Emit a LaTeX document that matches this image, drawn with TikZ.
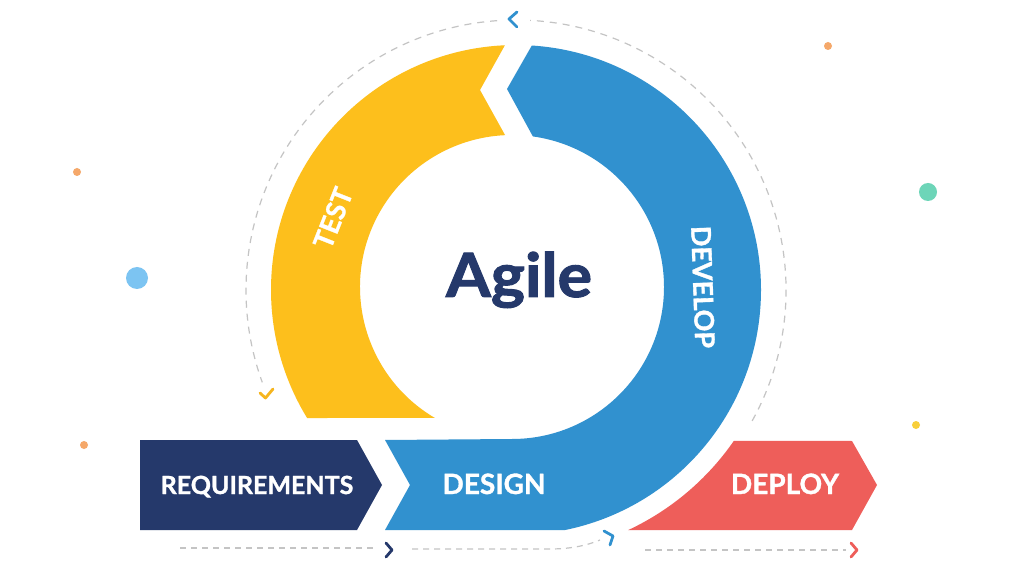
\documentclass[tikz,border=0pt]{standalone}
\usepackage{fontspec}
\setmainfont{Lato}[BoldFeatures={FakeBold=1.2}]
\newfontfamily\agilefont{Lato}[BoldFeatures={FakeBold=1.6}]
\definecolor{agyellow}{HTML}{FDBF1C}
\definecolor{agblue}{HTML}{3191CF}
\definecolor{agnavy}{HTML}{25396B}
\definecolor{agred}{HTML}{EE5E5A}
\definecolor{agteal}{HTML}{6DD5B8}
\definecolor{aglblue}{HTML}{7CC4F2}
\definecolor{agorange}{HTML}{F5A86A}
\definecolor{agdot}{HTML}{F8CF3A}
\definecolor{aggray}{HTML}{C4C4C4}
\definecolor{agchev}{HTML}{F6B51E}
\tikzset{
  lbl/.style={text=white, font=\bfseries\fontsize{27}{27}\selectfont, inner sep=0pt},
  dashcircle/.style={draw=aggray, line width=1.2pt, dash pattern=on 7pt off 6pt},
  dashline/.style={draw=aggray, line width=1.2pt, dash pattern=on 6pt off 5pt},
  chev/.style={line width=2.8pt, line cap=round, line join=round},
}
\begin{document}
\begin{tikzpicture}[x=1pt,y=1pt]
\useasboundingbox (0,0) rectangle (1024,573);
\fill[white] (0,0) rectangle (1024,573);

% dashed circle
\coordinate (cstart) at ([shift={(516,283)}]-29:270);
\coordinate (ctopB) at ([shift={(516,283)}]94:270);
\draw[dashcircle] (cstart) arc[start angle=-29,end angle=87,radius=270pt];
\draw[dashcircle] (ctopB) arc[start angle=94,end angle=200,radius=270pt];

% yellow band (TEST)
\fill[agyellow] ([shift={(516,283)}]92.6:245) arc[start angle=92.6,end angle=211.5,radius=245pt]
  -- ([shift={(512,286)}]239.5:152) arc[start angle=239.5,end angle=92.6,radius=152pt]
  -- (480,483) -- cycle;

% blue band (DESIGN / DEVELOP)
\fill[agblue] ([shift={(516,283)}]86.3:245) arc[start angle=86.3,end angle=-78.5,radius=245pt]
  -- (385,43) -- (410,88) -- (385,133)
  -- ([shift={(512,286)}]270:152) arc[start angle=270,end angle=442.1,radius=152pt]
  -- (507,484) -- cycle;

% red (DEPLOY)
\fill[agred] (852,132) -- (877,88) -- (852,43)
  -- ([shift={(516,283)}]-65:265) arc[start angle=-65,end angle=-34.7,radius=265pt] -- cycle;

% navy (REQUIREMENTS)
\fill[agnavy] (140,133) -- (357,133) -- (382,88) -- (357,43) -- (140,43) -- cycle;

% chevrons
\draw[chev, agblue] (517,561) -- (509,554) -- (517,546);
\draw[chev, agchev] (260,180) -- (265.5,175) -- (273,184);
\draw[chev, agnavy] (386,30) -- (392,23) -- (386,16);
\draw[chev, agblue] (604,42) -- (613,37) -- (610,28);
\draw[chev, agred] (851,30) -- (857,23) -- (851,16);

% bottom dashed lines
\coordinate (l1a) at (180,25); \coordinate (l1b) at (377,25);
\coordinate (l2a) at (412,24); \coordinate (l2b) at (550,24); \coordinate (l2c) at (600,33);
\coordinate (l3a) at (645,23); \coordinate (l3b) at (846,23);
\draw[dashline] (l1a) -- (l1b);
\draw[dashline] (l2a) -- (l2b) .. controls (572,24) and (588,28) .. (l2c);
\draw[dashline] (l3a) -- (l3b);

% dots
\fill[agorange] (828,527) circle[radius=4];
\fill[agorange] (77,401) circle[radius=4];
\fill[aglblue] (137,295) circle[radius=11];
\fill[agorange] (84,128) circle[radius=4];
\fill[agteal] (928,381) circle[radius=9];
\fill[agdot] (916,148) circle[radius=4];

% texts
\node[lbl, anchor=base, font=\bfseries\fontsize{25}{25}\selectfont] (req) at (257,79) {REQUIREMENTS};
\node[lbl, anchor=base, font=\bfseries\fontsize{28}{28}\selectfont] (des) at (494,79) {DESIGN};
\node[lbl, anchor=base, font=\bfseries\fontsize{28}{28}\selectfont] (dep) at (785,79) {DEPLOY};
\node[lbl, rotate=68.5] (test) at (333,355) {TEST};
\node[lbl, rotate=-88] (dev) at (703,286) {DEVELOP};
\node[text=agnavy, font=\agilefont\bfseries\fontsize{61}{61}\selectfont, inner sep=0pt, anchor=base, xscale=1.06] (agile) at (519,276) {Agile};
\end{tikzpicture}
\end{document}
